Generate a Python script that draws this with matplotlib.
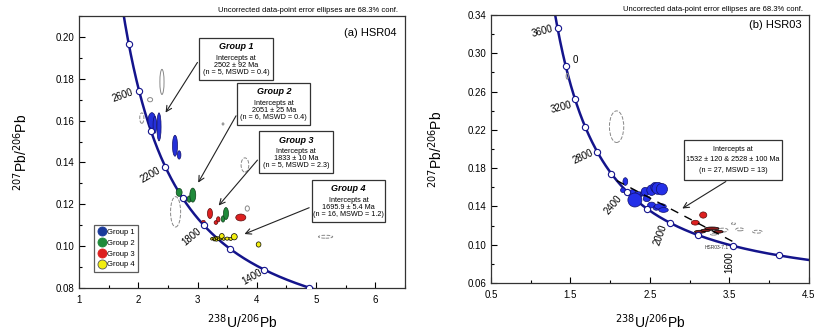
import numpy as np
import matplotlib.pyplot as plt
from matplotlib.patches import Ellipse, Rectangle
from matplotlib.lines import Line2D
from matplotlib.ticker import MultipleLocator

plt.rcParams['font.family'] = ['Liberation Sans', 'DejaVu Sans']

# decay constants (1/yr) and U ratio for the Tera-Wasserburg concordia
l238 = 1.55125e-10
l235 = 9.8485e-10
u_ratio = 137.88

# concordia age markers (Ma)
ages_a = [1200, 1400, 1600, 1800, 2000, 2200, 2400, 2600, 2800]
ages_b = [1400, 1600, 1800, 2000, 2200, 2400, 2600, 2800, 3000, 3200, 3400, 3600]

# ---- HSR04 ellipses: x, y, 2sx, 2sy ----
g1 = [(2.23, 0.1600, 0.13, 0.0076), (2.28, 0.1580, 0.06, 0.0080), (2.35, 0.1570, 0.07, 0.0134),
      (2.62, 0.1480, 0.085, 0.0100), (2.69, 0.1436, 0.06, 0.0040)]
g2 = [(2.69, 0.1257, 0.10, 0.0038), (2.80, 0.1225, 0.05, 0.0020), (2.86, 0.1225, 0.07, 0.0030),
      (2.92, 0.1244, 0.10, 0.0067), (3.43, 0.1130, 0.06, 0.0030), (3.48, 0.1156, 0.085, 0.0057)]
g3 = [(3.10, 0.1117, 0.06, 0.0012), (3.21, 0.1156, 0.085, 0.0048), (3.31, 0.1113, 0.06, 0.0018),
      (3.35, 0.1128, 0.06, 0.0025), (3.73, 0.1137, 0.17, 0.0033)]
g4 = [(3.24, 0.1035, 0.04, 0.0012), (3.27, 0.1037, 0.05, 0.0012), (3.28, 0.1030, 0.04, 0.0010),
      (3.30, 0.1033, 0.06, 0.0015), (3.31, 0.1042, 0.04, 0.0010), (3.32, 0.1029, 0.05, 0.0010),
      (3.33, 0.1038, 0.05, 0.0012), (3.35, 0.1040, 0.04, 0.0010), (3.36, 0.1033, 0.05, 0.0012),
      (3.39, 0.1036, 0.05, 0.0012), (3.41, 0.1048, 0.08, 0.0025), (3.44, 0.1034, 0.05, 0.0012),
      (3.50, 0.1036, 0.07, 0.0015), (3.56, 0.1035, 0.06, 0.0015), (3.62, 0.1045, 0.10, 0.0030),
      (4.03, 0.1008, 0.08, 0.0025)]
excl_a_solid = [(2.40, 0.1785, 0.07, 0.0120), (2.20, 0.1700, 0.085, 0.0020),
                (3.43, 0.1584, 0.03, 0.0010), (3.84, 0.1180, 0.07, 0.0025)]
excl_a_dash = [(2.06, 0.1612, 0.07, 0.0050), (3.80, 0.1388, 0.13, 0.0068),
               (2.63, 0.1164, 0.17, 0.0145), (5.16, 0.1045, 0.24, 0.0014)]

# ---- HSR03 ellipses ----
b_blue = [(2.16, 0.1570, 0.06, 0.0050), (2.19, 0.1660, 0.06, 0.0080), (2.28, 0.1550, 0.08, 0.0050),
          (2.35, 0.1520, 0.10, 0.0070), (2.42, 0.1537, 0.08, 0.0060), (2.44, 0.1554, 0.10, 0.0090),
          (2.46, 0.1480, 0.09, 0.0060), (2.52, 0.1570, 0.12, 0.0110), (2.56, 0.1600, 0.10, 0.0100),
          (2.60, 0.1589, 0.15, 0.0125), (2.65, 0.1580, 0.14, 0.0120), (2.52, 0.1415, 0.10, 0.0060),
          (2.58, 0.1385, 0.08, 0.0050), (2.63, 0.1400, 0.15, 0.0060), (2.67, 0.1363, 0.12, 0.0050),
          (2.31, 0.1467, 0.176, 0.0146)]
b_red = [(3.07, 0.1230, 0.10, 0.0050), (3.17, 0.1310, 0.09, 0.0065)]
b_dark = [(3.13, 0.1136, 0.14, 0.0030), (3.20, 0.1150, 0.12, 0.0025),
          (3.28, 0.1170, 0.18, 0.0030), (3.36, 0.1136, 0.12, 0.0030)]
b_dash = [(3.30, 0.1110, 0.08, 0.0020), (3.42, 0.1153, 0.12, 0.0040), (3.55, 0.1220, 0.05, 0.0020),
          (3.63, 0.1160, 0.10, 0.0030), (3.85, 0.1136, 0.12, 0.0030), (2.08, 0.2233, 0.18, 0.0330)]
b_solid = [(1.46, 0.2760, 0.03, 0.0060)]

# discordia intercepts (Ma) and the x-range it is drawn over
lower_int, upper_int = 1532, 2528
disc_xmax = 3.6


def tw(t_ma):
    t = np.asarray(t_ma, dtype=float) * 1e6
    e8 = np.exp(l238 * t) - 1
    e5 = np.exp(l235 * t) - 1
    return 1 / e8, e5 / e8 / u_ratio


navy = '#14148c'


def concordia(ax, tmin, tmax, ages):
    t = np.linspace(tmin, tmax, 400)
    x, y = tw(t)
    ax.plot(x, y, color=navy, lw=1.8, zorder=2)
    mx, my = tw(ages)
    ax.plot(mx, my, 'o', ms=4.5, mfc='white', mec=navy, mew=0.8, zorder=6)


def ellipses(ax, data, fc, ec='black', ls='-', lw=0.5, z=4):
    for x, y, w, h in data:
        ax.add_patch(Ellipse((x, y), w, h, facecolor=fc, edgecolor=ec, ls=ls, lw=lw, zorder=z))


fig = plt.figure(figsize=(8.27, 3.34), dpi=100)
ax1 = fig.add_axes([0.0955, 0.1377, 0.3942, 0.8144])
ax2 = fig.add_axes([0.5937, 0.1527, 0.3845, 0.8024])

# ---------- panel (a) ----------
concordia(ax1, 1150, 3000, ages_a)
ellipses(ax1, excl_a_solid, 'none', ec='#888888', lw=0.7)
ellipses(ax1, excl_a_dash, 'none', ec='#888888', ls='--', lw=0.7)
ellipses(ax1, g1, '#2430d8', ec='#10106a')
ellipses(ax1, g2, '#1f8a3a', ec='#0d3d18')
ellipses(ax1, g3, '#dd2020', ec='#5a0d0d')
ellipses(ax1, g4, '#f2ee10', ec='black', z=5)

ax1.set_xlim(1, 6.5)
ax1.set_ylim(0.08, 0.21)
ax1.xaxis.set_major_locator(MultipleLocator(1))
ax1.xaxis.set_minor_locator(MultipleLocator(0.5))
ax1.yaxis.set_minor_locator(MultipleLocator(0.01))
ax1.set_yticks([0.08, 0.10, 0.12, 0.14, 0.16, 0.18, 0.20])
ax1.set_yticklabels(['0.08', '0.10', '0.12', '0.14', '0.16', '0.18', '0.20'])

for lab, x, y, r in [('2600', 1.74, 0.1722, 20), ('2200', 2.20, 0.1340, 30),
                     ('1800', 2.90, 0.1045, 40), ('1400', 3.92, 0.0854, 30)]:
    ax1.text(x, y, lab, rotation=r, fontsize=7, ha='center', va='center')

boxes_a = [
    ('Group 1', ['Intercepts at', '2502 ± 92 Ma', '(n = 5, MSWD = 0.4)'], (0.369, 0.765), (2.436, 0.1627), (0.368, 0.838)),
    ('Group 2', ['Intercepts at', '2051 ± 25 Ma', '(n = 6, MSWD = 0.4)'], (0.485, 0.599), (2.988, 0.1292), (0.486, 0.642)),
    ('Group 3', ['Intercepts at', '1833 ± 10 Ma', '(n = 5, MSWD = 2.3)'], (0.553, 0.422), (3.326, 0.1184), (0.553, 0.478)),
    ('Group 4', ['Intercepts at', '1695.9 ± 5.4 Ma', '(n = 16, MSWD = 1.2)'], (0.714, 0.244), (3.748, 0.1053), (0.714, 0.299)),
]
bw, bh = 0.225, 0.154
for title, lines, (bx, by), tip, tail in boxes_a:
    ax1.add_patch(Rectangle((bx, by), bw, bh, transform=ax1.transAxes, fc='white',
                            ec='#333333', lw=0.9, zorder=7))
    ax1.text(bx + bw / 2, by + bh - 0.032, title, transform=ax1.transAxes, ha='center', va='center',
             fontsize=6.5, fontweight='bold', fontstyle='italic', zorder=8)
    for k, ln in enumerate(lines):
        ax1.text(bx + bw / 2, by + bh - 0.075 - k * 0.026, ln, transform=ax1.transAxes, ha='center',
                 va='center', fontsize=5.2, zorder=8)
    ax1.annotate('', xy=tip, xycoords='data', xytext=tail, textcoords='axes fraction',
                 arrowprops=dict(arrowstyle='->', color='#222222', lw=0.8), zorder=8)

handles = [Line2D([], [], ls='none', marker='o', ms=6.5, mfc=c, mec=e, mew=0.6)
           for c, e in [('#1a3a9a', '#1a3a9a'), ('#1f8a3a', '#1f8a3a'),
                        ('#dd2020', '#dd2020'), ('#f2ee10', '#555555')]]
leg = ax1.legend(handles, ['Group 1', 'Group 2', 'Group 3', 'Group 4'], loc='lower left',
                 bbox_to_anchor=(0.047, 0.058), fontsize=5.5, frameon=True, fancybox=False,
                 handletextpad=0.1, handlelength=1.0, borderpad=0.5, labelspacing=0.45,
                 borderaxespad=0)
leg.get_frame().set_edgecolor('#333333')
leg.get_frame().set_linewidth(0.9)

ax1.text(0.975, 0.938, '(a) HSR04', transform=ax1.transAxes, ha='right', va='center', fontsize=8)
ax1.text(0.979, 1.022, 'Uncorrected data-point error ellipses are 68.3% conf.', transform=ax1.transAxes,
         ha='right', va='center', fontsize=5.5)

# ---------- panel (b) ----------
concordia(ax2, 1250, 3700, ages_b)
xd, yd = tw([upper_int, lower_int])
ax2.plot([xd[0], disc_xmax], [yd[0], np.interp(disc_xmax, xd, yd)],
         color='black', lw=1.0, ls=(0, (6, 5)), zorder=5)
ellipses(ax2, b_solid, 'none', ec='#888888', lw=0.7)
ellipses(ax2, b_dash, 'none', ec='#888888', ls='--', lw=0.7)
ellipses(ax2, b_blue, '#2430e8', ec='#10106a')
ellipses(ax2, b_red, '#dd2020', ec='#5a0d0d')
ellipses(ax2, b_dark, '#8b1c1c', ec='black')
ax2.text(3.34, 0.097, 'HSR03-7.1', fontsize=3.5, ha='center', va='center', color='#333333')

ax2.set_xlim(0.5, 4.5)
ax2.set_ylim(0.06, 0.34)
ax2.xaxis.set_minor_locator(MultipleLocator(0.5))
ax2.set_xticks([0.5, 1.5, 2.5, 3.5, 4.5])
ax2.set_yticks([0.06, 0.10, 0.14, 0.18, 0.22, 0.26, 0.30, 0.34])
ax2.set_yticklabels(['0.06', '0.10', '0.14', '0.18', '0.22', '0.26', '0.30', '0.34'])
ax2.yaxis.set_minor_locator(MultipleLocator(0.02))

for lab, x, y, r in [('3600', 1.14, 0.3226, 15), ('0', 1.557, 0.293, 0), ('3200', 1.39, 0.2436, 15),
                     ('2800', 1.66, 0.1920, 25), ('2400', 2.04, 0.1415, 50), ('2000', 2.626, 0.1100, 70),
                     ('1600', 3.50, 0.0822, 90)]:
    ax2.text(x, y, lab, rotation=r, fontsize=7, ha='center', va='center')

bx, by, bw2, bh2 = 0.607, 0.384, 0.308, 0.150
ax2.add_patch(Rectangle((bx, by), bw2, bh2, transform=ax2.transAxes, fc='white',
                        ec='#333333', lw=0.9, zorder=7))
for k, ln in enumerate(['Intercepts at', '1532 ± 120 & 2528 ± 100 Ma', '(n = 27, MSWD = 13)']):
    ax2.text(bx + bw2 / 2, by + bh2 - 0.035 - k * 0.040, ln, transform=ax2.transAxes, ha='center',
             va='center', fontsize=5.2, zorder=8)
ax2.annotate('', xy=(2.877, 0.1363), xycoords='data', xytext=(0.746, 0.384), textcoords='axes fraction',
             arrowprops=dict(arrowstyle='->', color='#222222', lw=0.8), zorder=8)

ax2.text(0.977, 0.963, '(b) HSR03', transform=ax2.transAxes, ha='right', va='center', fontsize=8)
ax2.text(0.980, 1.019, 'Uncorrected data-point error ellipses are 68.3% conf.', transform=ax2.transAxes,
         ha='right', va='center', fontsize=5.5)

for ax, lx, ly in [(ax1, -0.150, -0.090), (ax2, -0.145, -0.110)]:
    ax.tick_params(which='both', direction='in', labelsize=7, width=0.8)
    ax.tick_params(which='major', length=4)
    ax.tick_params(which='minor', length=2.5)
    ax.tick_params(axis='x', pad=5)
    for s in ax.spines.values():
        s.set_linewidth(0.9)
        s.set_color('#333333')
    ax.set_xlabel('$^{238}$U/$^{206}$Pb', fontsize=10)
    ax.set_ylabel('$^{207}$Pb/$^{206}$Pb', fontsize=10)
    ax.xaxis.set_label_coords(0.5, ly)
    ax.yaxis.set_label_coords(lx, 0.5)

fig.savefig('out.png', dpi=100)
